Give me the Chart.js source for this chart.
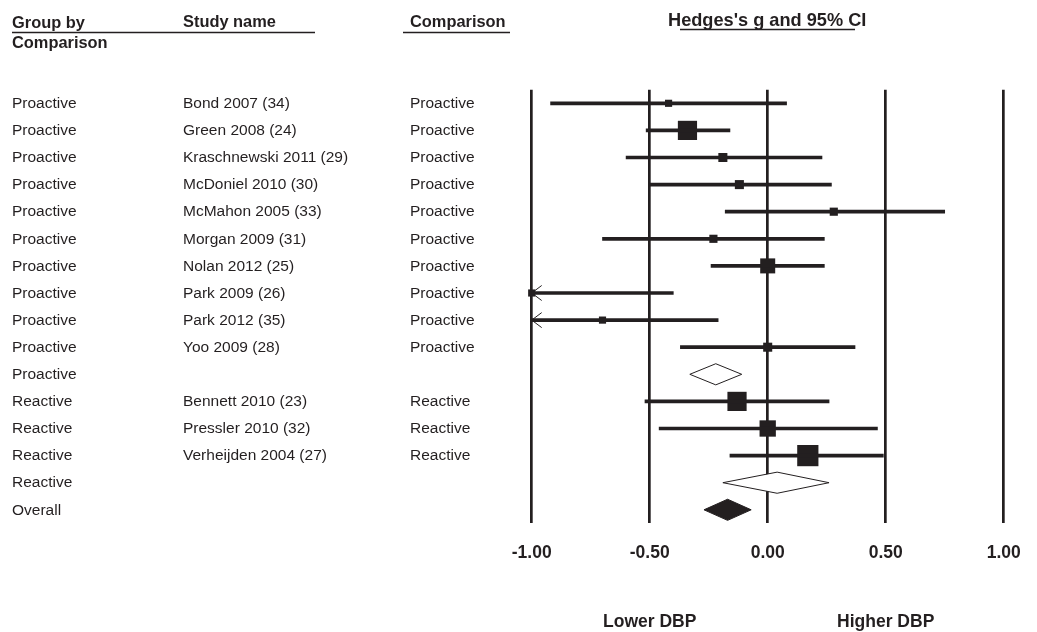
<!DOCTYPE html>
<html>
<head>
<meta charset="utf-8">
<script src="https://cdn.jsdelivr.net/npm/chart.js@4.4.1/dist/chart.umd.min.js"></script>
<style>
  html, body { margin: 0; padding: 0; background: #fff; }
  #wrap { width: 1037px; height: 632px; }
</style>
</head>
<body>
<div id="wrap"><canvas id="forest" width="1037" height="632"></canvas></div>
<script>
// rows, top to bottom
const groupLabels = ['Proactive', 'Proactive', 'Proactive', 'Proactive', 'Proactive', 'Proactive', 'Proactive',
  'Proactive', 'Proactive', 'Proactive', 'Proactive', 'Reactive', 'Reactive', 'Reactive', 'Reactive', 'Overall'];
const studyNames = ['Bond 2007 (34)', 'Green 2008 (24)', 'Kraschnewski 2011 (29)', 'McDoniel 2010 (30)',
  'McMahon 2005 (33)', 'Morgan 2009 (31)', 'Nolan 2012 (25)', 'Park 2009 (26)', 'Park 2012 (35)', 'Yoo 2009 (28)',
  '', 'Bennett 2010 (23)', 'Pressler 2010 (32)', 'Verheijden 2004 (27)', '', ''];
const comparisonLabels = ['Proactive', 'Proactive', 'Proactive', 'Proactive', 'Proactive', 'Proactive', 'Proactive',
  'Proactive', 'Proactive', 'Proactive', '', 'Reactive', 'Reactive', 'Reactive', '', ''];
// 'study' | 'subtotal' | 'overall'
const rowKind = ['study', 'study', 'study', 'study', 'study', 'study', 'study', 'study', 'study', 'study',
  'subtotal', 'study', 'study', 'study', 'subtotal', 'overall'];

// Hedges's g with 95% CI
const hedgesG = [-0.42, -0.34, -0.19, -0.12, 0.28, -0.23, 0.00, -1.00, -0.70, 0.00, -0.22, -0.13, 0.00, 0.17, 0.04, -0.17];
const lowerCI = [-0.92, -0.515, -0.60, -0.50, -0.18, -0.70, -0.24, -1.60, -1.19, -0.37, -0.33, -0.52, -0.46, -0.16, -0.19, -0.27];
const upperCI = [0.08, -0.16, 0.23, 0.27, 0.75, 0.24, 0.24, -0.40, -0.21, 0.37, -0.11, 0.26, 0.465, 0.49, 0.26, -0.07];
// relative study weights (square area)
const weights = [5, 36, 8, 8, 6.5, 6.5, 22, 5, 5, 8, null, 36, 26, 44, null, null];

const headers = { group: ['Group by', 'Comparison'], study: 'Study name', comparison: 'Comparison', effect: "Hedges's g and 95% CI" };
const directionLabels = [{ at: -0.5, text: 'Lower DBP' }, { at: 0.5, text: 'Higher DBP' }];

const ink = '#231f20';
const fontFamily = '"Liberation Sans", Arial, Helvetica, sans-serif';

// CI lines and squares only for individual studies
const studyRows = rowKind.map((k, i) => i).filter(i => rowKind[i] === 'study');
const ciBars = studyRows.map(i => ({ y: i, x: [lowerCI[i], upperCI[i]] }));
const squares = studyRows.map(i => ({ x: hedgesG[i], y: i }));
const squareRadius = studyRows.map(i => Math.sqrt(weights[i]) * 3.2 / Math.SQRT2);

// draws summary diamonds and the clipped-CI arrows
const forestMarks = {
  id: 'forestMarks',
  afterDatasetsDraw(chart) {
    const { ctx, scales: { x, y } } = chart;
    const rowH = Math.abs(y.getPixelForValue(1) - y.getPixelForValue(0));
    ctx.save();
    ctx.strokeStyle = ink;
    ctx.lineWidth = 1;
    rowKind.forEach((k, i) => {
      const py = y.getPixelForValue(i);
      if (k !== 'study') {
        const h = rowH * 0.39;
        ctx.beginPath();
        ctx.moveTo(x.getPixelForValue(lowerCI[i]), py);
        ctx.lineTo(x.getPixelForValue(hedgesG[i]), py - h);
        ctx.lineTo(x.getPixelForValue(upperCI[i]), py);
        ctx.lineTo(x.getPixelForValue(hedgesG[i]), py + h);
        ctx.closePath();
        ctx.fillStyle = k === 'overall' ? ink : '#fff';
        ctx.fill();
        ctx.stroke();
      } else if (lowerCI[i] < x.min) {
        const px = x.getPixelForValue(x.min);
        ctx.beginPath();
        ctx.moveTo(px + 10, py - 7.5);
        ctx.lineTo(px, py);
        ctx.lineTo(px + 10, py + 7.5);
        ctx.stroke();
      }
    });
    ctx.restore();
  }
};

// text columns, headers and direction labels
const forestText = {
  id: 'forestText',
  afterDraw(chart) {
    const { ctx, scales: { x, y } } = chart;
    ctx.save();
    ctx.fillStyle = ink;
    ctx.textAlign = 'left';
    ctx.textBaseline = 'middle';
    ctx.font = '15.5px ' + fontFamily;
    groupLabels.forEach((g, i) => {
      const py = y.getPixelForValue(i) + 0.5;
      ctx.fillText(g, 12, py);
      ctx.fillText(studyNames[i], 183, py);
      ctx.fillText(comparisonLabels[i], 410, py);
    });

    ctx.font = 'bold 16.4px ' + fontFamily;
    ctx.fillText(headers.group[0], 12, 23);
    ctx.fillText(headers.group[1], 12, 43);
    ctx.fillText(headers.study, 183, 22);
    ctx.fillText(headers.comparison, 410, 22);
    ctx.font = 'bold 18.2px ' + fontFamily;
    ctx.fillText(headers.effect, 668, 21);

    ctx.strokeStyle = ink;
    ctx.lineWidth = 1.3;
    [[12, 315, 32.5], [403, 510, 32.5], [680, 855, 29.5]].forEach(([a, b, ly]) => {
      ctx.beginPath();
      ctx.moveTo(a, ly);
      ctx.lineTo(b, ly);
      ctx.stroke();
    });

    ctx.textAlign = 'center';
    ctx.font = 'bold 17.5px ' + fontFamily;
    directionLabels.forEach(d => ctx.fillText(d.text, x.getPixelForValue(d.at), 622));
    ctx.restore();
  }
};

new Chart(document.getElementById('forest'), {
  type: 'bar',
  data: {
    datasets: [
      {
        type: 'bar',
        indexAxis: 'y',
        data: ciBars,
        backgroundColor: ink,
        borderWidth: 0,
        barThickness: 3
      },
      {
        type: 'scatter',
        data: squares,
        pointStyle: 'rect',
        pointRadius: squareRadius,
        backgroundColor: ink,
        borderWidth: 0,
        clip: false
      }
    ]
  },
  options: {
    responsive: false,
    animation: false,
    layout: { padding: { left: 531.7, right: 33.3, top: 89.75, bottom: 70 } },
    plugins: { legend: { display: false }, tooltip: { enabled: false } },
    scales: {
      x: {
        type: 'linear',
        min: -1,
        max: 1,
        offset: false,
        afterFit: scale => {
          scale.height = 38.65;
          scale.paddingLeft = 0;
          scale.paddingRight = 0;
        },
        ticks: {
          stepSize: 0.5,
          color: ink,
          padding: 19.3,
          font: { family: fontFamily, size: 17.5, weight: 'bold' },
          callback: v => v.toFixed(2)
        },
        grid: { color: ink, lineWidth: 2.7, drawTicks: false, offset: false },
        border: { display: false }
      },
      y: {
        type: 'linear',
        min: -0.5,
        max: 15.5,
        reverse: true,
        offset: false,
        display: false
      }
    }
  },
  plugins: [forestMarks, forestText]
});
</script>
</body>
</html>
